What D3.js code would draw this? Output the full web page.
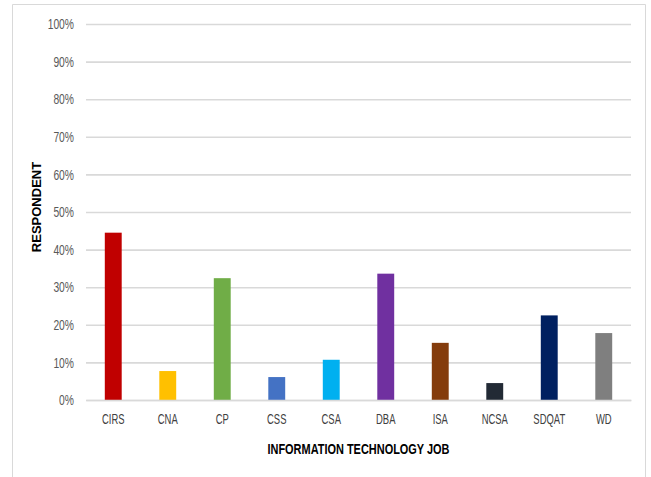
<!DOCTYPE html>
<html>
<head>
<meta charset="utf-8">
<script src="https://cdn.jsdelivr.net/npm/d3@7"></script>
<style>
  html, body { margin: 0; padding: 0; background: #fff; }
  svg { display: block; }
</style>
</head>
<body>
<svg id="chart" width="651" height="477"></svg>
<script>
// Share of respondents per information technology job
const jobs = ["CIRS", "CNA", "CP", "CSS", "CSA", "DBA", "ISA", "NCSA", "SDQAT", "WD"];
const shares = [0.445, 0.077, 0.324, 0.061, 0.107, 0.336, 0.152, 0.045, 0.225, 0.178];
const barColors = ["#c00000", "#ffc000", "#70ad47", "#4472c4", "#00b0f0",
                   "#7030a0", "#843c0c", "#222a35", "#002060", "#7f7f7f"];
const yTicks = [0, 0.1, 0.2, 0.3, 0.4, 0.5, 0.6, 0.7, 0.8, 0.9, 1.0];

const svg = d3.select("#chart");
const W = 651, H = 477;
const plot = { left: 86, right: 631, top: 24, bottom: 400 };
const labelFont = "'Liberation Sans', Arial, sans-serif";

// Squeeze text horizontally to give a condensed face
function condense(sel, factor) {
  sel.each(function () {
    const w = this.getComputedTextLength();
    d3.select(this)
      .attr("textLength", w * factor)
      .attr("lengthAdjust", "spacingAndGlyphs");
  });
}

// Outer frame (open at the bottom)
svg.append("path")
  .attr("d", `M12.5,${H} V4.5 H645.5 V${H}`)
  .attr("fill", "none")
  .attr("stroke", "#d9d9d9")
  .attr("stroke-width", 1);

const x = d3.scaleBand()
  .domain(jobs)
  .range([plot.left, plot.right])
  .paddingInner(0.69)
  .paddingOuter(0.345);

const y = d3.scaleLinear()
  .domain([0, 1])
  .range([plot.bottom, plot.top]);

// Gridlines and percentage labels
const yAxis = d3.axisLeft(y)
  .tickValues(yTicks)
  .tickFormat(d3.format(".0%"))
  .tickSize(-(plot.right - plot.left))
  .tickPadding(12);

const gy = svg.append("g")
  .attr("transform", `translate(${plot.left},0)`)
  .call(yAxis);
gy.select(".domain").remove();
gy.selectAll(".tick line")
  .attr("stroke", "#d9d9d9")
  .attr("stroke-width", 1.6);
gy.selectAll(".tick text")
  .attr("fill", "#595959")
  .style("font-family", labelFont)
  .style("font-size", "14.5px")
  .call(condense, 0.71);

// Bars
svg.append("g")
  .selectAll("rect")
  .data(jobs)
  .join("rect")
  .attr("x", d => x(d))
  .attr("width", x.bandwidth())
  .attr("y", (d, i) => y(shares[i]))
  .attr("height", (d, i) => y(0) - y(shares[i]))
  .attr("fill", (d, i) => barColors[i]);

// Category axis
const xAxis = d3.axisBottom(x).tickSize(0).tickPadding(14);
const gx = svg.append("g")
  .attr("transform", `translate(0,${plot.bottom})`)
  .call(xAxis);
gx.select(".domain")
  .attr("stroke", "#d9d9d9")
  .attr("stroke-width", 1.6);
gx.selectAll(".tick text")
  .attr("fill", "#404040")
  .style("font-family", labelFont)
  .style("font-size", "14.5px")
  .call(condense, 0.65);

// Axis titles
svg.append("text")
  .attr("x", 358.5)
  .attr("y", 454)
  .attr("text-anchor", "middle")
  .attr("fill", "#000")
  .style("font-family", labelFont)
  .style("font-weight", "bold")
  .style("font-size", "14.5px")
  .text("INFORMATION TECHNOLOGY JOB")
  .call(condense, 0.755);

svg.append("text")
  .attr("transform", "translate(41,207) rotate(-90)")
  .attr("text-anchor", "middle")
  .attr("fill", "#000")
  .style("font-family", labelFont)
  .style("font-weight", "bold")
  .style("font-size", "13px")
  .text("RESPONDENT");
</script>
</body>
</html>
